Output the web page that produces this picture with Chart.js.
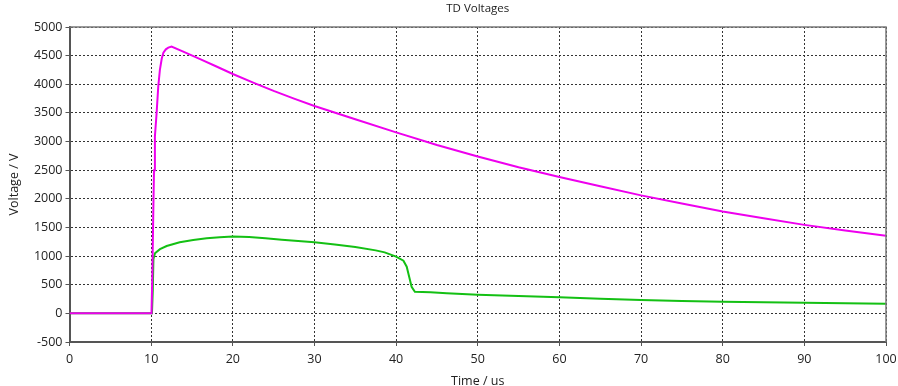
<!DOCTYPE html>
<html>
<head>
<meta charset="utf-8">
<script src="https://cdn.jsdelivr.net/npm/chart.js@4/dist/chart.umd.min.js"></script>
<style>
html,body{margin:0;padding:0;background:#fff;}
#wrap{width:898px;height:386px;}
</style>
</head>
<body>
<div id="wrap"><canvas id="c" width="898" height="386"></canvas></div>
<script>
// ---- data ----
const chartTitle = "TD Voltages";
const xTitle = "Time / us";
const yTitle = "Voltage / V";

const magentaTime = [0, 10.0, 10.05, 10.15, 10.25, 10.35, 10.46, 10.67, 10.87, 11.07, 11.3, 11.5, 11.8, 12.1, 12.5, 14, 16, 18, 20, 22.5, 25, 27.5, 30, 35, 40, 45, 50, 55, 60, 65, 70, 75, 80, 85, 90, 95, 100];
const magentaVolt = [0, 0, 50, 700, 1650, 2500, 3090, 3500, 3960, 4250, 4450, 4550, 4610, 4640, 4660, 4565, 4440, 4310, 4180, 4030, 3885, 3750, 3620, 3390, 3160, 2940, 2740, 2550, 2380, 2220, 2060, 1920, 1780, 1660, 1545, 1445, 1355];

const greenTime = [0, 10.1, 10.2, 10.28, 10.47, 11.08, 11.9, 13.5, 15.15, 16.8, 18.4, 20, 22, 24, 26, 28, 30, 32.5, 35, 37.5, 38.6, 40, 40.9, 41.3, 41.6, 41.9, 42.3, 44.2, 46.2, 50, 55, 60, 65, 70, 75, 80, 85, 90, 95, 100];
const greenVolt = [0, 0, 400, 950, 1050, 1120, 1176, 1240, 1281, 1311, 1328, 1340, 1332, 1310, 1285, 1262, 1240, 1202, 1158, 1100, 1065, 990, 920, 815, 640, 465, 378, 367, 350, 326, 303, 280, 256, 232, 217, 203, 194, 186, 177, 170];

const xMin = 0, xMax = 100, xStep = 10;
const yMin = -500, yMax = 5000, yStep = 500;

const toPts = (t, v) => t.map((x, i) => ({x: x, y: v[i]}));

const FONT = "'Open Sans', 'DejaVu Sans', sans-serif";

const framePlugin = {
  id: 'frame',
  afterDraw(chart) {
    const {ctx, chartArea: a} = chart;
    ctx.save();
    ctx.strokeStyle = '#7a7a7a';
    ctx.lineWidth = 1.5;
    ctx.beginPath();
    ctx.moveTo(a.left, a.top);
    ctx.lineTo(a.right, a.top);
    ctx.lineTo(a.right, a.bottom);
    ctx.stroke();
    ctx.fillStyle = '#222';
    ctx.font = "11.5px " + FONT;
    ctx.textAlign = 'center';
    ctx.textBaseline = 'middle';
    ctx.fillText(chartTitle, (a.left + a.right) / 2, 9);
    ctx.restore();
  }
};

const plainNum = (v) => String(v);

new Chart(document.getElementById('c'), {
  type: 'line',
  data: {
    datasets: [
      {
        label: 'V1',
        data: toPts(magentaTime, magentaVolt),
        borderColor: '#ee00ee',
        borderWidth: 2,
        pointRadius: 0,
        tension: 0,
        fill: false
      },
      {
        label: 'V2',
        data: toPts(greenTime, greenVolt),
        borderColor: '#14c014',
        borderWidth: 2,
        pointRadius: 0,
        tension: 0,
        fill: false
      }
    ]
  },
  options: {
    responsive: false,
    animation: false,
    devicePixelRatio: 1,
    layout: {padding: {top: 27, right: 0, left: 0, bottom: 0}},
    plugins: {
      legend: {display: false},
      title: {display: false},
      tooltip: {enabled: false}
    },
    scales: {
      x: {
        type: 'linear',
        min: xMin, max: xMax,
        afterFit(s) { s.height = 44; s.paddingRight = 12; },
        ticks: {stepSize: xStep, color: '#222', font: {family: FONT, size: 12.5}, padding: 6, maxRotation: 0, callback: plainNum},
        grid: {color: '#333', lineWidth: 1, tickLength: 4, tickColor: '#555', tickBorderDash: []},
        border: {display: true, color: '#555', width: 2, dash: [2, 2]},
        title: {display: true, text: xTitle, color: '#222', font: {family: FONT, size: 12.5, lineHeight: 0.8}, padding: {top: 2, bottom: 0}}
      },
      y: {
        type: 'linear',
        min: yMin, max: yMax,
        afterFit(s) { s.width = 69.5; },
        ticks: {stepSize: yStep, color: '#222', font: {family: FONT, size: 12.5}, padding: 3, callback: plainNum},
        grid: {color: '#333', lineWidth: 1, tickLength: 4, tickColor: '#555', tickBorderDash: []},
        border: {display: true, color: '#555', width: 2, dash: [2, 2]},
        title: {display: true, text: yTitle, color: '#222', font: {family: FONT, size: 12.5}, padding: {top: 7, bottom: 2}}
      }
    }
  },
  plugins: [framePlugin]
});
</script>
</body>
</html>
